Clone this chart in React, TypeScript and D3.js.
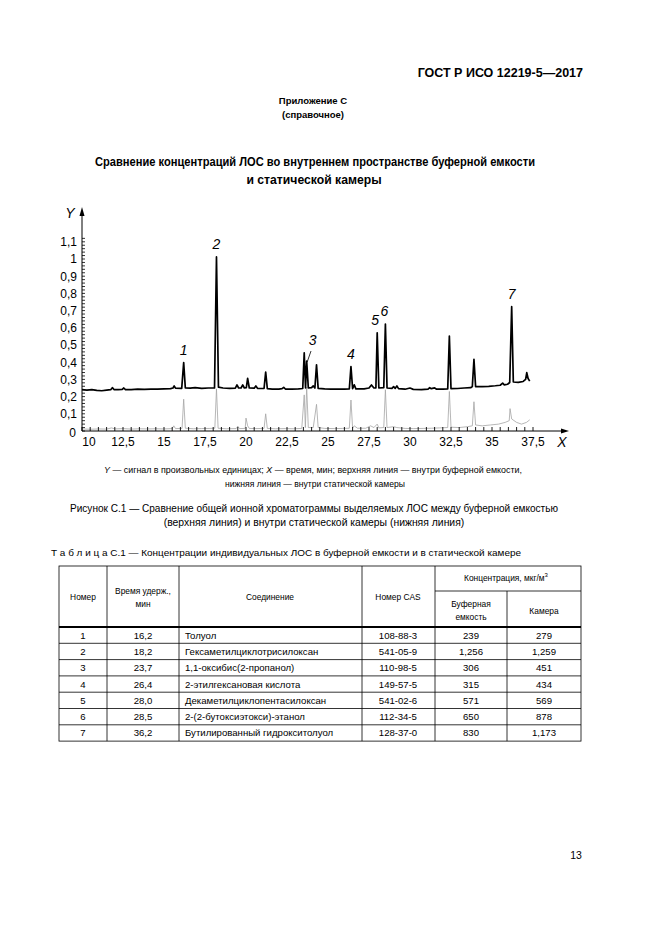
import React from "react";
import * as d3 from "d3";

// ---------- DATA ----------
const yTickValues = [0, 0.1, 0.2, 0.3, 0.4, 0.5, 0.6, 0.7, 0.8, 0.9, 1, 1.1];
const yTickLabels = ["0", "0,1", "0,2", "0,3", "0,4", "0,5", "0,6", "0,7", "0,8", "0,9", "1", "1,1"];
const xTickValues = [10, 12.5, 15, 17.5, 20, 22.5, 25, 27.5, 30, 32.5, 35, 37.5];
const xTickLabels = ["10", "12,5", "15", "17,5", "20", "22,5", "25", "27,5", "30", "32,5", "35", "37,5"];

// upper line: inside buffer tank (time, signal)
const bufferSeries: [number, number][] = [
  [10.0, 0.240], [10.3, 0.238], [10.6, 0.241], [10.9, 0.236], [11.2, 0.234], [11.5, 0.238], [11.75, 0.240],
  [11.85, 0.252], [11.95, 0.241], [12.2, 0.240], [12.45, 0.242], [12.55, 0.250], [12.65, 0.241], [13.0, 0.240],
  [13.4, 0.243], [13.8, 0.242], [14.2, 0.244], [14.6, 0.243], [15.0, 0.245], [15.4, 0.246], [15.55, 0.250],
  [15.62, 0.262], [15.7, 0.249], [16.08, 0.248], [16.2, 0.398], [16.3, 0.250], [16.6, 0.249], [16.9, 0.252],
  [17.3, 0.248], [17.7, 0.250], [18.08, 0.250], [18.2, 1.012], [18.32, 0.255], [18.6, 0.250], [19.0, 0.248],
  [19.35, 0.249], [19.45, 0.268], [19.55, 0.250], [19.7, 0.250], [19.8, 0.268], [19.9, 0.250], [20.02, 0.252],
  [20.1, 0.306], [20.2, 0.250], [20.5, 0.249], [20.6, 0.262], [20.7, 0.248], [21.1, 0.247], [21.2, 0.343],
  [21.3, 0.246], [21.6, 0.244], [22.0, 0.243], [22.2, 0.246], [22.3, 0.254], [22.4, 0.244], [22.8, 0.243],
  [23.2, 0.245], [23.46, 0.247], [23.55, 0.455], [23.63, 0.250], [23.7, 0.407], [23.8, 0.250], [24.0, 0.252],
  [24.1, 0.262], [24.2, 0.250], [24.3, 0.385], [24.4, 0.248], [24.8, 0.245], [25.2, 0.243], [25.6, 0.244],
  [26.0, 0.243], [26.3, 0.245], [26.4, 0.375], [26.5, 0.246], [26.6, 0.268], [26.7, 0.245], [27.2, 0.245],
  [27.5, 0.250], [27.65, 0.268], [27.8, 0.250], [27.92, 0.250], [28.0, 0.571], [28.1, 0.250], [28.4, 0.252],
  [28.5, 0.622], [28.6, 0.250], [28.9, 0.248], [29.0, 0.258], [29.1, 0.248], [29.2, 0.262], [29.3, 0.246],
  [29.7, 0.243], [30.0, 0.250], [30.2, 0.242], [30.7, 0.241], [31.1, 0.244], [31.2, 0.252], [31.3, 0.246],
  [31.5, 0.251], [31.6, 0.244], [32.0, 0.243], [32.3, 0.245], [32.4, 0.552], [32.5, 0.246], [32.9, 0.247],
  [33.3, 0.250], [33.7, 0.252], [33.8, 0.258], [33.9, 0.417], [34.0, 0.258], [34.4, 0.258], [34.8, 0.260],
  [35.2, 0.263], [35.5, 0.266], [35.65, 0.278], [35.75, 0.268], [35.95, 0.272], [36.08, 0.282], [36.2, 0.723],
  [36.3, 0.285], [36.6, 0.283], [36.9, 0.288], [37.05, 0.300], [37.12, 0.339], [37.2, 0.305], [37.3, 0.290],
];

// lower line: inside static chamber (time, signal)
const chamberSeries: [number, number][] = [
  [10.0, 0.012], [10.5, 0.010], [11.0, 0.012], [11.5, 0.011], [11.8, 0.018], [12.0, 0.012], [12.5, 0.014],
  [13.0, 0.011], [13.5, 0.013], [14.0, 0.012], [14.5, 0.013], [15.0, 0.012], [15.5, 0.014], [15.6, 0.030],
  [15.7, 0.014], [16.1, 0.015], [16.2, 0.185], [16.3, 0.016], [16.8, 0.013], [17.3, 0.014], [17.8, 0.015],
  [18.1, 0.016], [18.2, 0.245], [18.3, 0.016], [18.8, 0.013], [19.4, 0.014], [19.5, 0.028], [19.6, 0.014],
  [19.95, 0.015], [20.0, 0.075], [20.1, 0.030], [20.2, 0.015], [20.6, 0.014], [21.1, 0.015], [21.2, 0.100],
  [21.3, 0.015], [21.8, 0.013], [22.4, 0.014], [22.9, 0.013], [23.4, 0.015], [23.55, 0.210], [23.62, 0.020],
  [23.7, 0.255], [23.8, 0.020], [24.1, 0.020], [24.3, 0.155], [24.4, 0.020], [24.8, 0.015], [25.4, 0.014],
  [25.9, 0.015], [26.3, 0.016], [26.4, 0.180], [26.5, 0.017], [26.6, 0.030], [26.8, 0.016], [27.3, 0.016],
  [27.6, 0.030], [27.8, 0.020], [28.0, 0.040], [28.1, 0.018], [28.4, 0.020], [28.5, 0.240], [28.6, 0.020],
  [29.0, 0.025], [29.2, 0.020], [29.7, 0.015], [30.2, 0.014], [30.8, 0.015], [31.3, 0.016], [31.8, 0.018],
  [32.3, 0.020], [32.4, 0.230], [32.5, 0.022], [33.0, 0.020], [33.5, 0.025], [33.8, 0.030], [33.9, 0.170],
  [34.0, 0.035], [34.4, 0.030], [34.9, 0.035], [35.4, 0.040], [35.8, 0.050], [36.05, 0.060], [36.1, 0.130],
  [36.2, 0.070], [36.5, 0.050], [36.8, 0.040], [37.1, 0.050], [37.3, 0.065],
];

// peak labels (number, time, signal of apex)
const peakIds = ["1", "2", "3", "4", "5", "6", "7"];
const peakTimes = [16.2, 18.2, 23.7, 26.4, 28.0, 28.5, 36.2];
const peakTops = [0.398, 1.012, 0.407, 0.375, 0.571, 0.622, 0.723];

// table
const tblNumber = ["1", "2", "3", "4", "5", "6", "7"];
const tblTime = ["16,2", "18,2", "23,7", "26,4", "28,0", "28,5", "36,2"];
const tblCompound = [
  "Толуол",
  "Гексаметилциклотрисилоксан",
  "1,1-оксибис(2-пропанол)",
  "2-этилгексановая кислота",
  "Декаметилциклопентасилоксан",
  "2-(2-бутоксиэтокси)-этанол",
  "Бутилированный гидрокситолуол",
];
const tblCas = ["108-88-3", "541-05-9", "110-98-5", "149-57-5", "541-02-6", "112-34-5", "128-37-0"];
const tblBuffer = ["239", "1,256", "306", "315", "571", "650", "830"];
const tblChamber = ["279", "1,259", "451", "434", "569", "878", "1,173"];

const FONT = "'Liberation Sans', Arial, Helvetica, sans-serif";

export default function App() {
  const x = d3.scaleLinear().domain([10, 37.5]).range([82, 533]);
  const y = d3.scaleLinear().domain([0, 1]).range([431, 259]);
  const line = d3
    .line<[number, number]>()
    .x((d) => x(d[0]))
    .y((d) => y(d[1]));

  const axisX0 = x(10);
  const axisY0 = y(0);
  const yMinor = d3.range(0, 1.121, 0.02);
  const xMinor = d3.range(10, 37.51, 0.5);

  // table geometry
  const colX = [59, 107, 179, 362, 435, 507, 581];
  const tTop = 566;
  const tHeadBottom = 627;
  const rowH = 16.3;
  const tBottom = tHeadBottom + rowH * 7;

  return (
    <svg
      width={661}
      height={936}
      style={{ position: "absolute", left: 0, top: 0, background: "#fff" }}
      fontFamily={FONT}
    >
      <rect x={0} y={0} width={661} height={936} fill="#fff" />
      {/* header */}
      <text x={583} y={77} textAnchor="end" fontSize={12.5} fontWeight="bold">
        ГОСТ Р ИСО 12219-5—2017
      </text>
      <text x={313} y={104} textAnchor="middle" fontSize={9.5} fontWeight="bold">
        Приложение С
      </text>
      <text x={313} y={118} textAnchor="middle" fontSize={9.5} fontWeight="bold">
        (справочное)
      </text>
      <text x={315} y={166} textAnchor="middle" fontSize={12.2} fontWeight="bold" textLength={440} lengthAdjust="spacingAndGlyphs">
        Сравнение концентраций ЛОС во внутреннем пространстве буферной емкости
      </text>
      <text x={314} y={184} textAnchor="middle" fontSize={12.2} fontWeight="bold">
        и статической камеры
      </text>

      {/* chart */}
      <g>
        {/* lower line */}
        <path d={line(chamberSeries) || ""} fill="none" stroke="#a5a5a5" strokeWidth={0.8} />
        {/* axes */}
        <line x1={axisX0} y1={axisY0} x2={axisX0} y2={214} stroke="#000" strokeWidth={1} />
        <path d={`M${axisX0 - 2.5},${216} L${axisX0},${207} L${axisX0 + 2.5},${216} Z`} fill="#000" />
        <line x1={axisX0} y1={axisY0} x2={565} y2={axisY0} stroke="#000" strokeWidth={1} />
        <path d={`M${561},${axisY0 - 2.5} L${569},${axisY0} L${561},${axisY0 + 2.5} Z`} fill="#000" />
        {yMinor.map((v, i) => (
          <line key={"ym" + i} x1={axisX0} x2={axisX0 + 3} y1={y(v)} y2={y(v)} stroke="#000" strokeWidth={0.8} />
        ))}
        {xMinor.map((v, i) => (
          <line key={"xm" + i} x1={x(v)} x2={x(v)} y1={axisY0} y2={axisY0 - 4} stroke="#000" strokeWidth={0.9} />
        ))}
        {yTickValues.map((v, i) =>
          v === 0 ? (
            <text key={"yl" + i} x={76} y={437} textAnchor="end" fontSize={12}>
              {yTickLabels[i]}
            </text>
          ) : (
            <text key={"yl" + i} x={77} y={y(v) + 4.3} textAnchor="end" fontSize={12}>
              {yTickLabels[i]}
            </text>
          )
        )}
        {xTickValues.map((v, i) => (
          <text key={"xl" + i} x={v === 10 ? x(v) + 7 : x(v)} y={446} textAnchor="middle" fontSize={12}>
            {xTickLabels[i]}
          </text>
        ))}
        <text x={70} y={218} textAnchor="middle" fontSize={14} fontStyle="italic">
          Y
        </text>
        <text x={562} y={447} textAnchor="middle" fontSize={14} fontStyle="italic">
          X
        </text>
        {/* upper line */}
        <path d={line(bufferSeries) || ""} fill="none" stroke="#000" strokeWidth={1.7} strokeLinejoin="round" />
        {/* peak labels */}
        {peakIds.map((id, i) => {
          let lx = x(peakTimes[i]);
          let ly = y(peakTops[i]) - 8;
          if (id === "3") {
            lx = lx + 6;
            ly = ly - 8;
          }
          if (id === "5") {
            lx = lx - 2;
          }
          if (id === "6") {
            lx = lx - 1;
          }
          return (
            <text key={"pk" + i} x={lx} y={ly} textAnchor="middle" fontSize={14} fontStyle="italic">
              {id}
            </text>
          );
        })}
        <line x1={311} y1={351} x2={x(23.7) + 0.5} y2={y(0.407) + 1} stroke="#000" strokeWidth={0.8} />
      </g>

      {/* caption */}
      <text x={313} y={473} textAnchor="middle" fontSize={8.6} textLength={418} lengthAdjust="spacingAndGlyphs">
        <tspan fontStyle="italic">Y</tspan> — сигнал в произвольных единицах; <tspan fontStyle="italic">X</tspan> — время, мин; верхняя линия — внутри буферной емкости,
      </text>
      <text x={315} y={487} textAnchor="middle" fontSize={8.6}>
        нижняя линия — внутри статической камеры
      </text>
      <text x={314} y={512} textAnchor="middle" fontSize={10.4} textLength={488} lengthAdjust="spacingAndGlyphs">
        Рисунок  С.1 — Сравнение общей ионной хроматограммы выделяемых ЛОС между буферной емкостью
      </text>
      <text x={314} y={526} textAnchor="middle" fontSize={10.4}>
        (верхняя линия) и внутри статической камеры (нижняя линия)
      </text>

      {/* table title */}
      <text x={51} y={556} fontSize={9.8} textLength={470} lengthAdjust="spacingAndGlyphs">
        Т а б л и ц а  С.1 — Концентрации индивидуальных ЛОС в буферной емкости и в статической камере
      </text>

      {/* table */}
      <g stroke="#000" strokeWidth={0.8} fill="none">
        <rect x={colX[0]} y={tTop} width={colX[6] - colX[0]} height={tBottom - tTop} />
        {[1, 2, 3, 4].map((c) => (
          <line key={"v" + c} x1={colX[c]} x2={colX[c]} y1={tTop} y2={tBottom} />
        ))}
        <line x1={colX[5]} x2={colX[5]} y1={591} y2={tBottom} />
        <line x1={colX[4]} x2={colX[6]} y1={591} y2={591} />
        <line x1={colX[0]} x2={colX[6]} y1={tHeadBottom} y2={tHeadBottom} strokeWidth={1.8} />
        {d3.range(1, 7).map((r) => (
          <line key={"h" + r} x1={colX[0]} x2={colX[6]} y1={tHeadBottom + r * rowH} y2={tHeadBottom + r * rowH} />
        ))}
      </g>
      <g fontSize={8.4} textAnchor="middle">
        <text x={83} y={600}>Номер</text>
        <text x={143} y={594}>Время удерж.,</text>
        <text x={143} y={607}>мин</text>
        <text x={270} y={600}>Соединение</text>
        <text x={398} y={600}>Номер CAS</text>
        <text x={506} y={581}>
          Концентрация, мкг/м<tspan fontSize={6} dy={-4}>3</tspan>
        </text>
        <text x={471} y={607}>Буферная</text>
        <text x={471} y={620}>емкость</text>
        <text x={544} y={614}>Камера</text>
      </g>
      <g fontSize={9.6}>
        {tblNumber.map((n, r) => {
          const yy = tHeadBottom + r * rowH + rowH / 2 + 3.5;
          return (
            <g key={"row" + r}>
              <text x={83} y={yy} textAnchor="middle">{n}</text>
              <text x={143} y={yy} textAnchor="middle">{tblTime[r]}</text>
              <text x={185} y={yy}>{tblCompound[r]}</text>
              <text x={398} y={yy} textAnchor="middle">{tblCas[r]}</text>
              <text x={471} y={yy} textAnchor="middle">{tblBuffer[r]}</text>
              <text x={544} y={yy} textAnchor="middle">{tblChamber[r]}</text>
            </g>
          );
        })}
      </g>

      {/* page number */}
      <text x={576} y={859} textAnchor="middle" fontSize={10.5}>
        13
      </text>
    </svg>
  );
}
